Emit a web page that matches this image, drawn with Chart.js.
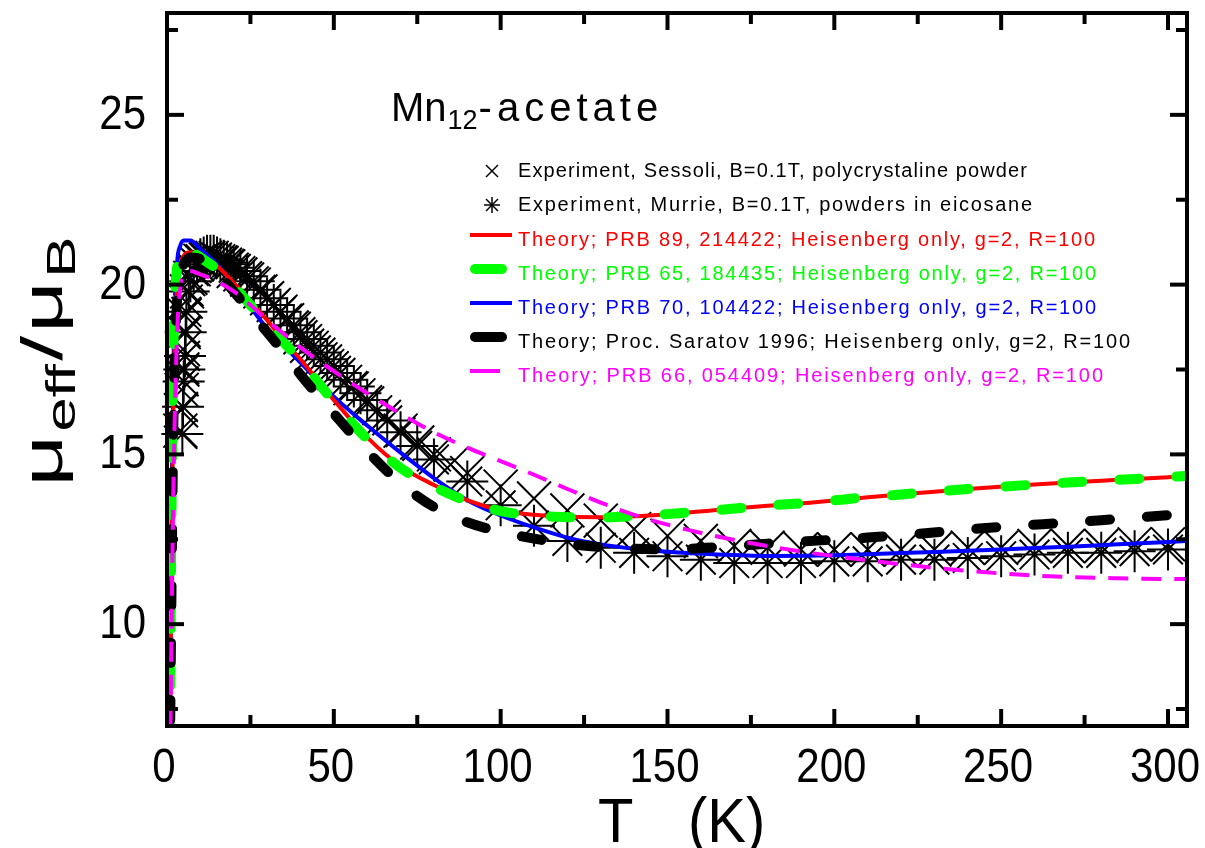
<!DOCTYPE html>
<html>
<head>
<meta charset="utf-8">
<script src="https://cdn.jsdelivr.net/npm/chart.js@4.4.1/dist/chart.umd.min.js"></script>
<style>
  html, body { margin: 0; padding: 0; background: #fff; }
  canvas { display: block; }
</style>
</head>
<body>
<canvas id="chart" width="1205" height="848"></canvas>
<script>
// experiment: Sessoli, B=0.1T, polycrystaline powder (x markers)
const sessoliT = [4.0, 4.2, 4.4, 4.6, 4.8, 5.0, 5.3, 5.6, 6, 7, 8, 9, 10,
  12, 14, 16, 18, 20, 22, 24, 26, 28, 30, 32, 34, 36, 38, 40, 42, 44, 46, 48, 50,
  55, 60, 65, 70, 75, 80, 85, 90,
  100, 110, 120, 130, 140, 150, 160, 170, 180, 190, 200, 210, 220, 230, 240, 250, 260, 270, 280, 290, 300]
const sessoliMu = [15.7, 16.3, 16.9, 17.5, 18.1, 18.6, 19.1, 19.5, 19.8, 20.2, 20.45, 20.6, 20.7,
  20.75, 20.7, 20.65, 20.55, 20.4, 20.3, 20.15, 20.0, 19.8, 19.6, 19.4, 19.2, 18.95, 18.7, 18.45, 18.2, 18.0, 17.8, 17.6, 17.4,
  16.95, 16.5, 16.1, 15.7, 15.35, 15.0, 14.7, 14.45,
  14.05, 13.7, 13.35, 13.05, 12.8, 12.6, 12.45, 12.3, 12.25, 12.2, 12.2, 12.2, 12.2, 12.2, 12.25, 12.25, 12.3, 12.3, 12.3, 12.35, 12.35]

// experiment: Murrie, B=0.1T, powders in eicosane (asterisks)
const murrieT = [4.6, 4.8, 5.0, 5.2, 5.4, 5.6, 5.8, 6.5, 7, 8, 9, 10,
  11, 12, 13, 14, 15, 16, 17, 18, 19, 20,
  22, 24, 26, 28, 30, 32, 34, 36, 38, 40, 42, 44, 46, 48, 50, 52, 54, 56, 58, 60,
  63, 66, 70, 75, 80,
  90, 100, 110, 120, 130, 140, 150, 160, 170, 180, 190, 200, 210, 220, 230, 240, 250, 260, 270, 280, 290, 300]
const murrieMu = [15.6, 16.4, 17.15, 17.5, 17.9, 18.6, 19.2, 19.8, 20.1, 20.4, 20.6, 20.75,
  20.8, 20.85, 20.85, 20.85, 20.8, 20.75, 20.7, 20.65, 20.6, 20.5,
  20.4, 20.25, 20.1, 19.85, 19.6, 19.4, 19.2, 19.0, 18.8, 18.6, 18.4, 18.2, 18.0, 17.8, 17.6, 17.4, 17.2, 17.0, 16.8, 16.6,
  16.3, 16.0, 15.65, 15.25, 14.85,
  14.2, 13.5, 12.9, 12.45, 12.25, 12.1, 12.0, 11.9, 11.8, 11.8, 11.8, 11.85, 11.85, 11.9, 11.9, 11.95, 12.0, 12.05, 12.1, 12.1, 12.15, 12.2]

// theory curves, all on one temperature grid
const theoryT = [0.8, 1.5, 2, 3, 4, 5, 7, 10, 15, 20, 25, 30, 35, 40,
  50, 60, 70, 80, 90, 100, 110, 120, 130, 140, 150,
  165, 180, 195, 210, 225, 240, 255, 270, 285, 300, 306]
const prb89 = [6.0, 13.5, 17.0, 19.9, 20.6, 20.85, 20.95, 20.85, 20.55, 20.05, 19.5, 18.95, 18.35, 17.8,
  16.6, 15.5, 14.65, 14.1, 13.65, 13.35, 13.22, 13.16, 13.15, 13.18, 13.24,
  13.36, 13.49, 13.6, 13.74, 13.86, 13.98, 14.08, 14.17, 14.25, 14.33, 14.37]
const prb65 = [6.5, 15.0, 18.5, 20.5, 21.0, 21.1, 21.0, 20.8, 20.45, 19.95, 19.4, 18.85, 18.3, 17.75,
  16.55, 15.45, 14.6, 14.05, 13.62, 13.33, 13.2, 13.15, 13.14, 13.18, 13.24,
  13.36, 13.49, 13.6, 13.74, 13.86, 13.98, 14.08, 14.17, 14.25, 14.33, 14.37]
const prb70 = [6.0, 14.5, 18.0, 20.6, 21.15, 21.3, 21.3, 21.05, 20.6, 20.0, 19.35, 18.7, 18.2, 17.7,
  16.7, 15.85, 15.05, 14.3, 13.65, 13.2, 12.85, 12.55, 12.35, 12.22, 12.13,
  12.05, 12.01, 12.02, 12.06, 12.11, 12.16, 12.22, 12.28, 12.35, 12.42, 12.45]
const saratov96 = [5.5, 12.5, 16.5, 19.5, 20.3, 20.6, 20.8, 20.75, 20.35, 19.8, 19.2, 18.6, 18.0, 17.35,
  16.2, 15.1, 14.15, 13.45, 13.0, 12.72, 12.52, 12.37, 12.27, 12.22, 12.2,
  12.27, 12.37, 12.46, 12.55, 12.66, 12.79, 12.9, 12.99, 13.1, 13.21, 13.25]
const prb66 = [5.0, 11.0, 14.5, 18.5, 19.9, 20.3, 20.4, 20.3, 20.1, 19.8, 19.4, 18.95, 18.55, 18.15,
  17.45, 16.8, 16.2, 15.65, 15.2, 14.8, 14.4, 13.98, 13.58, 13.22, 12.93,
  12.58, 12.3, 12.07, 11.88, 11.71, 11.57, 11.46, 11.39, 11.35, 11.33, 11.33]

const xMajorTicks = [0, 50, 100, 150, 200, 250, 300]
const xMinorTicks = [25, 75, 125, 175, 225, 275]
const yMajorTicks = [10, 15, 20, 25]
const yMinorTicks = [7.5, 12.5, 17.5, 22.5, 27.5]

const legendLabels = [
  'Experiment, Sessoli, B=0.1T, polycrystaline powder',
  'Experiment, Murrie, B=0.1T, powders in eicosane',
  'Theory; PRB 89, 214422; Heisenberg only, g=2, R=100',
  'Theory; PRB 65, 184435; Heisenberg only, g=2, R=100',
  'Theory; PRB 70, 104422; Heisenberg only, g=2, R=100',
  'Theory; Proc. Saratov 1996; Heisenberg only, g=2, R=100',
  'Theory; PRB 66, 054409; Heisenberg only, g=2, R=100'
]
// how wide each legend line is in the original plot font
const legendWidths = [509, 514, 577, 578, 578, 612, 585]

const pts = (xs, ys) => xs.map((x, i) => ({ x, y: ys[i] }))

const theory = (label, values, color, width, dash, cap, order) => ({
  label,
  data: pts(theoryT, values),
  showLine: true,
  borderColor: color,
  borderWidth: width,
  borderDash: dash,
  borderCapStyle: cap,
  pointRadius: 0,
  cubicInterpolationMode: 'monotone',
  clip: 0,
  order
})

const datasets = [
  {
    label: legendLabels[0],
    data: pts(sessoliT, sessoliMu),
    showLine: false,
    pointStyle: 'crossRot',
    pointRadius: 24,
    borderColor: '#000',
    pointBorderWidth: 2,
    clip: false,
    order: 6
  },
  {
    label: legendLabels[1],
    data: pts(murrieT, murrieMu),
    showLine: false,
    pointStyle: 'star',
    pointRadius: 21,
    borderColor: '#000',
    pointBorderWidth: 2,
    clip: false,
    order: 5
  },
  theory(legendLabels[2], prb89, '#ff0000', 4, [], 'butt', 3),
  theory(legendLabels[3], prb65, '#00ff00', 10, [20, 37], 'round', 2),
  theory(legendLabels[4], prb70, '#0000ff', 4, [], 'butt', 4),
  theory(legendLabels[5], saratov96, '#000000', 10, [20, 37], 'round', 1),
  theory(legendLabels[6], prb66, '#ff00ff', 4, [20, 13], 'butt', 0)
]

const FONT = '"Liberation Sans", Arial, sans-serif'

// frame, inward ticks, tick labels, titles and legend
const decorations = {
  id: 'decorations',
  afterDraw(chart) {
    const { ctx, chartArea: a, scales: { x, y } } = chart
    ctx.save()
    ctx.strokeStyle = '#000'
    ctx.fillStyle = '#000'
    ctx.lineWidth = 4
    ctx.lineCap = 'butt'

    const tick = (x1, y1, x2, y2) => {
      ctx.beginPath()
      ctx.moveTo(x1, y1)
      ctx.lineTo(x2, y2)
      ctx.stroke()
    }
    xMajorTicks.forEach(v => {
      const px = x.getPixelForValue(v)
      tick(px, a.bottom, px, a.bottom - 17)
      tick(px, a.top, px, a.top + 17)
    })
    xMinorTicks.forEach(v => {
      const px = x.getPixelForValue(v)
      tick(px, a.bottom, px, a.bottom - 11)
      tick(px, a.top, px, a.top + 11)
    })
    yMajorTicks.forEach(v => {
      const py = y.getPixelForValue(v)
      tick(a.left, py, a.left + 17, py)
      tick(a.right, py, a.right - 17, py)
    })
    yMinorTicks.forEach(v => {
      const py = y.getPixelForValue(v)
      tick(a.left, py, a.left + 11, py)
      tick(a.right, py, a.right - 11, py)
    })
    ctx.strokeRect(a.left, a.top, a.right - a.left, a.bottom - a.top)

    // text drawn with a stretch, to look like the plotting font
    const stretched = (text, px, py, align, base, size, sx, sy) => {
      ctx.save()
      ctx.translate(px, py)
      ctx.scale(sx, sy)
      ctx.font = `${size}px ${FONT}`
      ctx.textAlign = align
      ctx.textBaseline = base
      ctx.fillText(text, 0, 0)
      ctx.restore()
    }
    xMajorTicks.forEach(v => stretched(String(v), x.getPixelForValue(v) - 3, 782, 'center', 'alphabetic', 40, 1.05, 1.18))
    yMajorTicks.forEach(v => stretched(String(v), 146, y.getPixelForValue(v) + 1, 'right', 'middle', 40, 1.05, 1.18))

    // x title
    stretched('T', 598, 842, 'left', 'alphabetic', 58, 1, 1.1)
    stretched('(K)', 688, 842, 'left', 'alphabetic', 58, 1, 1.1)

    // y title, rotated: mu_eff / mu_B
    ctx.save()
    ctx.translate(62, 360)
    ctx.rotate(-Math.PI / 2)
    ctx.scale(1.55, 1)
    const parts = [
      ['μ', 58, 0], ['eff', 40, 13], ['/', 58, 0], ['μ', 58, 0], ['B', 40, 13]
    ]
    let total = 0
    parts.forEach(([t, s]) => { ctx.font = `${s}px ${FONT}`; total += ctx.measureText(t).width + 2 })
    let cx = -total / 2
    ctx.textAlign = 'left'
    ctx.textBaseline = 'alphabetic'
    parts.forEach(([t, s, dy]) => {
      ctx.font = `${s}px ${FONT}`
      ctx.fillText(t, cx, dy)
      cx += ctx.measureText(t).width + 2
    })
    ctx.restore()

    // compound name
    ctx.textAlign = 'left'
    ctx.textBaseline = 'alphabetic'
    ctx.font = `40px ${FONT}`
    ctx.fillText('Mn', 391, 121)
    let tx = 391 + ctx.measureText('Mn').width + 1
    ctx.font = `27px ${FONT}`
    ctx.fillText('12', tx, 129)
    tx += ctx.measureText('12').width + 1
    ctx.font = `40px ${FONT}`
    if ('letterSpacing' in ctx) ctx.letterSpacing = '5px'
    ctx.fillText('-acetate', tx, 121)
    if ('letterSpacing' in ctx) ctx.letterSpacing = '0px'

    // legend
    const rowsY = [171, 205, 240, 274, 308, 342, 376]
    const textX = 518
    ctx.font = `20px ${FONT}`
    ctx.textBaseline = 'middle'
    chart.data.datasets.forEach((ds, i) => {
      const ry = rowsY[i]
      ctx.save()
      ctx.strokeStyle = ds.borderColor
      if (i < 2) {
        ctx.lineWidth = 1.5
        const h = 6
        tick(492 - h, ry - h, 492 + h, ry + h)
        tick(492 - h, ry + h, 492 + h, ry - h)
        if (i === 1) {
          tick(492, ry - 8, 492, ry + 8)
          tick(484, ry, 500, ry)
        }
      } else {
        ctx.lineWidth = ds.borderWidth
        ctx.lineCap = ds.borderWidth > 5 ? 'round' : 'butt'
        const x0 = ds.borderWidth > 5 ? 475 : 470
        const x1 = i === 6 ? 500 : (ds.borderWidth > 5 ? 502 : 512)
        tick(x0, ry - 5, x1, ry - 5)
      }
      ctx.restore()
      ctx.fillStyle = i < 2 ? '#000' : ds.borderColor
      const label = ds.label
      if ('letterSpacing' in ctx) {
        ctx.letterSpacing = '0px'
        const w = ctx.measureText(label).width
        ctx.letterSpacing = `${Math.max(0, (legendWidths[i] - w) / (label.length - 1))}px`
      }
      ctx.fillText(label, textX, ry)
    })
    if ('letterSpacing' in ctx) ctx.letterSpacing = '0px'
    ctx.restore()
  }
}

new Chart(document.getElementById('chart'), {
  type: 'scatter',
  data: { datasets },
  options: {
    responsive: false,
    animation: false,
    layout: { autoPadding: false, padding: { left: 167, right: 18, top: 13, bottom: 122 } },
    plugins: { legend: { display: false }, tooltip: { enabled: false } },
    scales: {
      x: { type: 'linear', min: 0, max: 305.7, display: false },
      y: { type: 'linear', min: 7, max: 28, display: false }
    }
  },
  plugins: [decorations]
})
</script>
</body>
</html>
